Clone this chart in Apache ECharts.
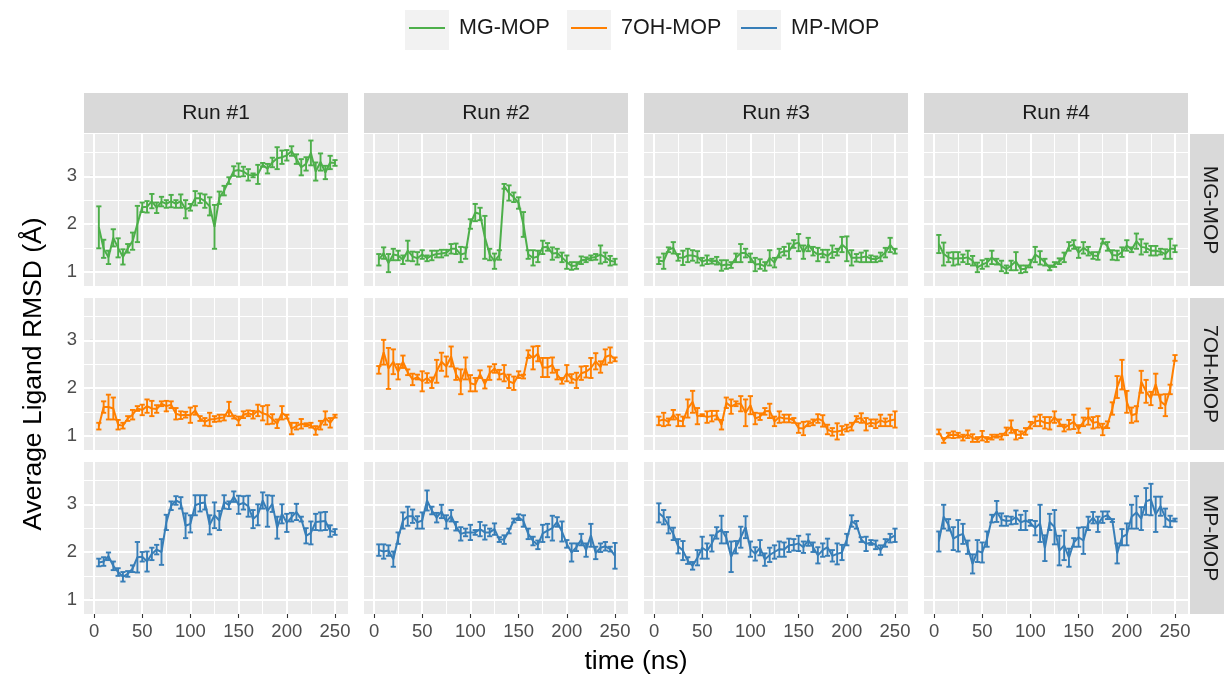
<!DOCTYPE html>
<html><head><meta charset="utf-8">
<script src="https://cdn.jsdelivr.net/npm/echarts@6/dist/echarts.min.js"></script>
<style>html,body{margin:0;padding:0;background:#fff}#c{width:1224px;height:681px}</style>
</head><body><div id="c"></div>
<script>
// ---------------- DATA ----------------
const time = [5,10,15,20,25,30,35,40,45,50,55,60,65,70,75,80,85,90,95,100,105,110,115,120,125,130,135,140,145,150,155,160,165,170,175,180,185,190,195,200,205,210,215,220,225,230,235,240,245,250];
const runs = ['Run #1','Run #2','Run #3','Run #4'];
const systems = ['MG-MOP','7OH-MOP','MP-MOP'];
const xTicks = [0,50,100,150,200,250];
const xMinor = [25,75,125,175,225];
const yTicks = [1,2,3];
const yMinor = [1.5,2.5,3.5];

const mg_run1_mean = [1.93,1.48,1.30,1.71,1.50,1.31,1.49,1.64,2.00,2.35,2.36,2.48,2.34,2.47,2.42,2.48,2.42,2.48,2.31,2.35,2.54,2.54,2.48,2.37,1.94,2.55,2.70,2.91,3.11,3.13,3.10,3.03,3.02,3.04,3.24,3.16,3.29,3.38,3.40,3.44,3.53,3.36,3.19,3.26,3.49,3.10,3.30,3.08,3.29,3.28];
const mg_run1_err  = [.44,.19,.14,.18,.20,.16,.09,.18,.38,.10,.12,.15,.11,.10,.08,.13,.08,.14,.19,.07,.15,.10,.14,.19,.46,.13,.10,.07,.10,.14,.10,.12,.04,.20,.04,.10,.10,.23,.14,.11,.10,.10,.17,.14,.26,.19,.18,.14,.14,.06];
const mg_run2_mean = [1.25,1.39,1.18,1.36,1.34,1.25,1.44,1.32,1.28,1.36,1.28,1.34,1.37,1.38,1.40,1.48,1.48,1.36,1.39,2.00,2.24,2.21,1.72,1.36,1.22,1.35,2.79,2.65,2.56,2.44,1.99,1.36,1.29,1.32,1.51,1.52,1.38,1.39,1.30,1.20,1.12,1.13,1.24,1.25,1.29,1.31,1.36,1.30,1.23,1.21];
const mg_run2_err  = [.12,.12,.19,.12,.10,.09,.21,.10,.13,.09,.06,.10,.07,.08,.06,.10,.11,.16,.12,.10,.18,.13,.45,.12,.16,.10,.05,.16,.10,.12,.26,.09,.16,.12,.14,.08,.13,.09,.10,.14,.08,.07,.08,.05,.05,.06,.19,.10,.10,.06];
const mg_run3_mean = [1.23,1.22,1.46,1.50,1.30,1.29,1.34,1.34,1.31,1.21,1.25,1.22,1.23,1.13,1.15,1.14,1.29,1.39,1.39,1.29,1.15,1.16,1.11,1.29,1.19,1.39,1.43,1.43,1.58,1.61,1.41,1.57,1.43,1.36,1.38,1.33,1.42,1.41,1.57,1.48,1.29,1.29,1.30,1.32,1.27,1.26,1.31,1.40,1.56,1.43];
const mg_run3_err  = [.07,.16,.05,.12,.07,.15,.14,.11,.12,.08,.09,.05,.08,.11,.09,.06,.09,.19,.09,.09,.14,.10,.09,.16,.10,.09,.09,.16,.08,.18,.14,.14,.09,.14,.08,.13,.13,.07,.16,.26,.16,.08,.10,.12,.07,.06,.09,.10,.15,.05];
const mg_run4_mean = [1.58,1.37,1.30,1.27,1.28,1.28,1.30,1.23,1.09,1.15,1.19,1.30,1.21,1.12,1.05,1.13,1.22,1.05,1.06,1.17,1.36,1.29,1.20,1.08,1.15,1.22,1.30,1.53,1.57,1.40,1.50,1.43,1.34,1.33,1.64,1.53,1.35,1.34,1.41,1.55,1.46,1.64,1.52,1.50,1.44,1.44,1.42,1.37,1.48,1.48];
const mg_run4_err  = [.19,.24,.10,.14,.13,.08,.14,.10,.10,.09,.08,.14,.06,.11,.08,.10,.19,.08,.07,.08,.16,.14,.07,.05,.05,.06,.10,.09,.09,.11,.12,.09,.07,.08,.05,.09,.10,.10,.10,.11,.05,.16,.16,.09,.10,.10,.06,.10,.21,.07];

const oh_run1_mean = [1.20,1.60,1.60,1.57,1.23,1.21,1.36,1.44,1.57,1.54,1.62,1.57,1.56,1.67,1.62,1.65,1.46,1.43,1.44,1.43,1.53,1.36,1.29,1.34,1.35,1.37,1.38,1.56,1.39,1.31,1.44,1.47,1.44,1.53,1.47,1.44,1.35,1.25,1.48,1.40,1.15,1.20,1.25,1.23,1.22,1.11,1.22,1.37,1.27,1.41];
const oh_run1_err  = [.07,.12,.26,.23,.10,.06,.05,.10,.05,.11,.14,.16,.08,.05,.11,.07,.12,.08,.06,.16,.09,.05,.08,.14,.06,.07,.06,.15,.03,.09,.07,.06,.08,.12,.15,.20,.10,.09,.14,.04,.12,.07,.10,.03,.05,.09,.09,.14,.10,.03];
const oh_run2_mean = [2.38,2.75,2.41,2.55,2.34,2.55,2.33,2.18,2.23,2.14,2.21,2.11,2.35,2.55,2.45,2.66,2.29,2.13,2.41,2.10,2.07,2.29,2.08,2.31,2.41,2.28,2.31,2.14,2.10,2.28,2.24,2.71,2.63,2.72,2.43,2.43,2.48,2.28,2.15,2.31,2.20,2.16,2.31,2.34,2.42,2.56,2.44,2.65,2.69,2.60];
const oh_run2_err  = [.08,.26,.43,.26,.16,.13,.06,.12,.05,.21,.10,.11,.24,.19,.21,.21,.12,.26,.23,.17,.14,.08,.09,.14,.09,.10,.17,.14,.14,.07,.04,.08,.24,.16,.20,.20,.16,.10,.06,.17,.09,.16,.14,.12,.21,.17,.12,.16,.16,.04];
const oh_run3_mean = [1.31,1.34,1.29,1.44,1.32,1.30,1.57,1.71,1.41,1.43,1.39,1.41,1.43,1.23,1.69,1.61,1.67,1.67,1.48,1.64,1.36,1.40,1.51,1.52,1.30,1.39,1.36,1.36,1.32,1.16,1.15,1.25,1.28,1.36,1.31,1.13,1.08,1.09,1.11,1.16,1.19,1.35,1.37,1.24,1.27,1.25,1.32,1.28,1.32,1.34];
const oh_run3_err  = [.09,.14,.07,.10,.12,.10,.19,.23,.17,.02,.12,.11,.09,.10,.11,.15,.05,.16,.28,.19,.12,.07,.07,.15,.10,.12,.08,.08,.05,.10,.14,.05,.06,.09,.12,.10,.08,.17,.09,.07,.08,.06,.10,.13,.07,.09,.12,.08,.12,.17];
const oh_run4_mean = [1.08,0.90,1.01,1.02,1.01,0.96,1.03,0.95,0.92,1.00,0.92,0.97,0.99,0.98,1.09,1.19,1.02,1.02,1.09,1.22,1.30,1.32,1.27,1.26,1.39,1.27,1.16,1.23,1.29,1.14,1.29,1.40,1.27,1.29,1.13,1.23,1.57,2.02,2.28,1.71,1.43,1.46,2.13,1.93,1.78,2.08,1.72,1.64,1.97,2.63];
const oh_run4_err  = [.05,.05,.05,.07,.05,.06,.08,.08,.05,.10,.05,.05,.03,.06,.08,.13,.10,.07,.07,.07,.10,.12,.12,.13,.12,.07,.07,.10,.15,.08,.09,.17,.12,.12,.12,.07,.13,.23,.31,.23,.16,.16,.23,.24,.14,.22,.14,.23,.10,.06];

const mp_run1_mean = [1.78,1.80,1.91,1.71,1.58,1.48,1.54,1.65,1.89,1.90,1.80,1.96,2.05,2.00,2.62,2.97,3.08,3.03,2.55,2.59,2.98,3.02,3.04,2.57,2.77,2.66,3.05,2.98,3.16,2.99,3.03,2.96,2.69,2.78,3.08,2.86,3.01,2.51,2.80,2.61,2.73,2.84,2.69,2.34,2.40,2.63,2.64,2.65,2.44,2.42];
const mp_run1_err  = [.08,.09,.08,.09,.08,.10,.06,.07,.32,.10,.21,.13,.10,.27,.16,.09,.09,.12,.26,.18,.21,.17,.15,.20,.27,.20,.14,.08,.11,.19,.14,.22,.19,.22,.17,.33,.17,.23,.20,.19,.09,.17,.05,.16,.24,.17,.19,.19,.12,.06];
const mp_run2_mean = [2.04,2.01,2.03,1.85,2.29,2.66,2.75,2.75,2.62,2.66,3.08,2.87,2.72,2.85,2.63,2.76,2.54,2.38,2.41,2.41,2.41,2.48,2.41,2.41,2.48,2.26,2.26,2.44,2.66,2.73,2.65,2.38,2.23,2.15,2.39,2.45,2.50,2.63,2.43,2.17,1.99,2.10,2.26,2.04,2.35,1.98,2.09,2.12,2.06,1.92];
const mp_run2_err  = [.12,.15,.11,.16,.12,.17,.20,.14,.13,.17,.21,.08,.10,.14,.14,.12,.09,.14,.08,.16,.05,.15,.15,.08,.12,.05,.09,.05,.04,.06,.12,.11,.09,.09,.18,.14,.26,.10,.21,.08,.19,.08,.12,.14,.24,.13,.09,.09,.05,.27];
const mp_run3_mean = [2.82,2.73,2.56,2.38,2.12,2.03,1.82,1.71,1.88,2.09,2.02,2.18,2.40,2.47,2.30,1.90,2.10,2.31,2.52,2.06,1.96,2.09,1.84,1.94,2.00,2.06,2.05,2.14,2.15,2.18,2.10,2.25,2.10,1.93,2.04,2.10,1.92,1.96,1.99,2.26,2.65,2.57,2.26,2.17,2.20,2.15,2.04,2.19,2.29,2.35];
const mp_run3_err  = [.20,.15,.17,.13,.15,.20,.07,.08,.16,.23,.16,.17,.12,.29,.12,.32,.13,.22,.23,.16,.14,.16,.13,.15,.14,.16,.15,.14,.12,.16,.12,.12,.10,.17,.14,.18,.12,.22,.16,.12,.12,.08,.05,.15,.05,.09,.10,.08,.09,.14];
const mp_run4_mean = [2.22,2.74,2.57,2.28,2.34,2.38,2.10,1.75,2.02,1.99,2.27,2.70,2.85,2.68,2.65,2.66,2.73,2.62,2.66,2.61,2.50,2.60,2.08,2.63,2.52,2.03,2.14,1.88,2.20,2.31,2.24,2.60,2.72,2.58,2.73,2.77,2.66,1.97,2.31,2.37,2.74,2.83,2.70,3.06,3.10,2.79,2.96,2.72,2.64,2.67];
const mp_run4_err  = [.21,.25,.12,.24,.33,.21,.14,.20,.23,.21,.16,.08,.22,.13,.10,.08,.14,.16,.20,.06,.15,.39,.27,.17,.36,.31,.31,.19,.09,.20,.28,.14,.12,.16,.12,.08,.03,.21,.17,.23,.25,.34,.24,.28,.33,.37,.20,.19,.12,.03];

// ---------------- LAYOUT / STYLE ----------------
const panelMeans = [
  [mg_run1_mean, mg_run2_mean, mg_run3_mean, mg_run4_mean],
  [oh_run1_mean, oh_run2_mean, oh_run3_mean, oh_run4_mean],
  [mp_run1_mean, mp_run2_mean, mp_run3_mean, mp_run4_mean]
];
const panelErrs = [
  [mg_run1_err, mg_run2_err, mg_run3_err, mg_run4_err],
  [oh_run1_err, oh_run2_err, oh_run3_err, oh_run4_err],
  [mp_run1_err, mp_run2_err, mp_run3_err, mp_run4_err]
];
const colors = ['#4DAF4A', '#FF7F00', '#377EB8'];
const FONT = 'Liberation Sans, Arial, Helvetica, sans-serif';
const colLeft = [84, 364, 644, 924];
const rowTop = [134, 298, 462];
const PW = 264, PH = 152;
const X_MIN = -10.4, X_MAX = 263.5;
const Y_MIN = 0.70, Y_MAX = 3.887;
const STRIP = 21, LEG = 21.5, TICK = 18.5, BIG = 26.5;

const grids = [], xAxes = [], yAxes = [], series = [];

function renderErr(params, api) {
  const x = api.value(0), lo = api.value(1), hi = api.value(2);
  const a = api.coord([x, lo]), b = api.coord([x, hi]);
  const w = 2.6;
  const style = { stroke: api.visual('color'), lineWidth: 1.9, fill: null };
  return { type: 'group', children: [
    { type: 'line', shape: { x1: a[0], y1: a[1], x2: b[0], y2: b[1] }, style },
    { type: 'line', shape: { x1: a[0]-w, y1: a[1], x2: a[0]+w, y2: a[1] }, style },
    { type: 'line', shape: { x1: b[0]-w, y1: b[1], x2: b[0]+w, y2: b[1] }, style }
  ]};
}

const gridLineData = [].concat(
  xTicks.map(v => ({ xAxis: v, lineStyle: { width: 2.1 } })),
  xMinor.map(v => ({ xAxis: v, lineStyle: { width: 1.1 } })),
  yTicks.map(v => ({ yAxis: v, lineStyle: { width: 2.1 } })),
  yMinor.map(v => ({ yAxis: v, lineStyle: { width: 1.1 } }))
);

let idx = 0;
for (let r = 0; r < 3; r++) {
  for (let c = 0; c < 4; c++) {
    grids.push({ left: colLeft[c], top: rowTop[r], width: PW, height: PH,
      show: true, backgroundColor: '#EBEBEB', borderWidth: 0, containLabel: false });
    const bottom = r === 2, left = c === 0;
    xAxes.push({ type: 'value', gridIndex: idx, min: X_MIN, max: X_MAX,
      splitLine: { show: false }, axisLine: { show: false },
      axisTick: { show: bottom, customValues: xTicks, length: 4, lineStyle: { color: '#333333', width: 1.1 } },
      axisLabel: { show: bottom, customValues: xTicks, fontSize: TICK, color: '#4D4D4D', fontFamily: FONT, margin: 8 }
    });
    yAxes.push({ type: 'value', gridIndex: idx, min: Y_MIN, max: Y_MAX,
      splitLine: { show: false }, axisLine: { show: false },
      axisTick: { show: left, customValues: yTicks, length: 4, lineStyle: { color: '#333333', width: 1.1 } },
      axisLabel: { show: left, customValues: yTicks, fontSize: TICK, color: '#4D4D4D', fontFamily: FONT, margin: 7 },
      name: (left && r === 1) ? 'Average Ligand RMSD (Å)' : '',
      nameLocation: 'middle', nameRotate: 90, nameGap: 37,
      nameTextStyle: { fontSize: BIG, color: '#000', fontFamily: FONT }
    });
    series.push({ type: 'line', xAxisIndex: idx, yAxisIndex: idx, data: [], silent: true, z: 1,
      markLine: { silent: true, symbol: ['none', 'none'], z: 1, animation: false,
        label: { show: false }, lineStyle: { color: '#FFFFFF', type: 'solid' },
        emphasis: { disabled: true }, data: gridLineData } });
    const means = panelMeans[r][c], errs = panelErrs[r][c];
    series.push({ type: 'line', name: systems[r], xAxisIndex: idx, yAxisIndex: idx, z: 3,
      data: time.map((t, i) => [t, means[i]]), symbol: 'none', showSymbol: false,
      lineStyle: { width: 2, color: colors[r] }, itemStyle: { color: colors[r] }, animation: false });
    series.push({ type: 'custom', name: systems[r], xAxisIndex: idx, yAxisIndex: idx, z: 3,
      data: time.map((t, i) => [t, means[i] - errs[i], means[i] + errs[i]]),
      encode: { x: 0, y: [1, 2] }, renderItem: renderErr,
      itemStyle: { color: colors[r] }, animation: false });
    idx++;
  }
}

const graphics = [];
for (let c = 0; c < 4; c++) {
  graphics.push({ type: 'rect', left: colLeft[c], top: 93, shape: { width: PW, height: 40 },
    style: { fill: '#D9D9D9' }, z: 0 });
  graphics.push({ type: 'text', x: colLeft[c] + PW / 2, y: 113,
    style: { text: runs[c], fill: '#1A1A1A', font: STRIP + 'px ' + FONT, textAlign: 'center', textVerticalAlign: 'middle' }, z: 2 });
}
for (let r = 0; r < 3; r++) {
  graphics.push({ type: 'rect', left: 1190, top: rowTop[r], shape: { width: 40, height: PH },
    style: { fill: '#D9D9D9' }, z: 0 });
  graphics.push({ type: 'text', x: 1210, y: rowTop[r] + PH / 2, rotation: -Math.PI / 2,
    style: { text: systems[r], fill: '#1A1A1A', font: STRIP + 'px ' + FONT, textAlign: 'center', textVerticalAlign: 'middle' }, z: 2 });
}
graphics.push({ type: 'text', x: 636, y: 662,
  style: { text: 'time (ns)', fill: '#000', font: BIG + 'px ' + FONT, textAlign: 'center', textVerticalAlign: 'middle' } });
const keyLeft = [405, 567, 737];
for (let i = 0; i < 3; i++) {
  graphics.push({ type: 'rect', left: keyLeft[i], top: 10, shape: { width: 44, height: 40 },
    style: { fill: '#F2F2F2' }, z: 0 });
}

const legends = systems.map((s, i) => ({
  data: [s], left: keyLeft[i] + 4, top: 17, icon: 'rect', itemWidth: 36, itemHeight: 2,
  selectedMode: false, padding: 0,
  textStyle: { fontSize: LEG, color: '#1A1A1A', fontFamily: FONT, padding: [0, 0, 0, 9] }
}));

const chart = echarts.init(document.getElementById('c'));
chart.setOption({
  backgroundColor: '#FFFFFF',
  animation: false,
  textStyle: { fontFamily: FONT },
  legend: legends,
  grid: grids, xAxis: xAxes, yAxis: yAxes,
  series: series,
  graphic: graphics
});
</script></body></html>
